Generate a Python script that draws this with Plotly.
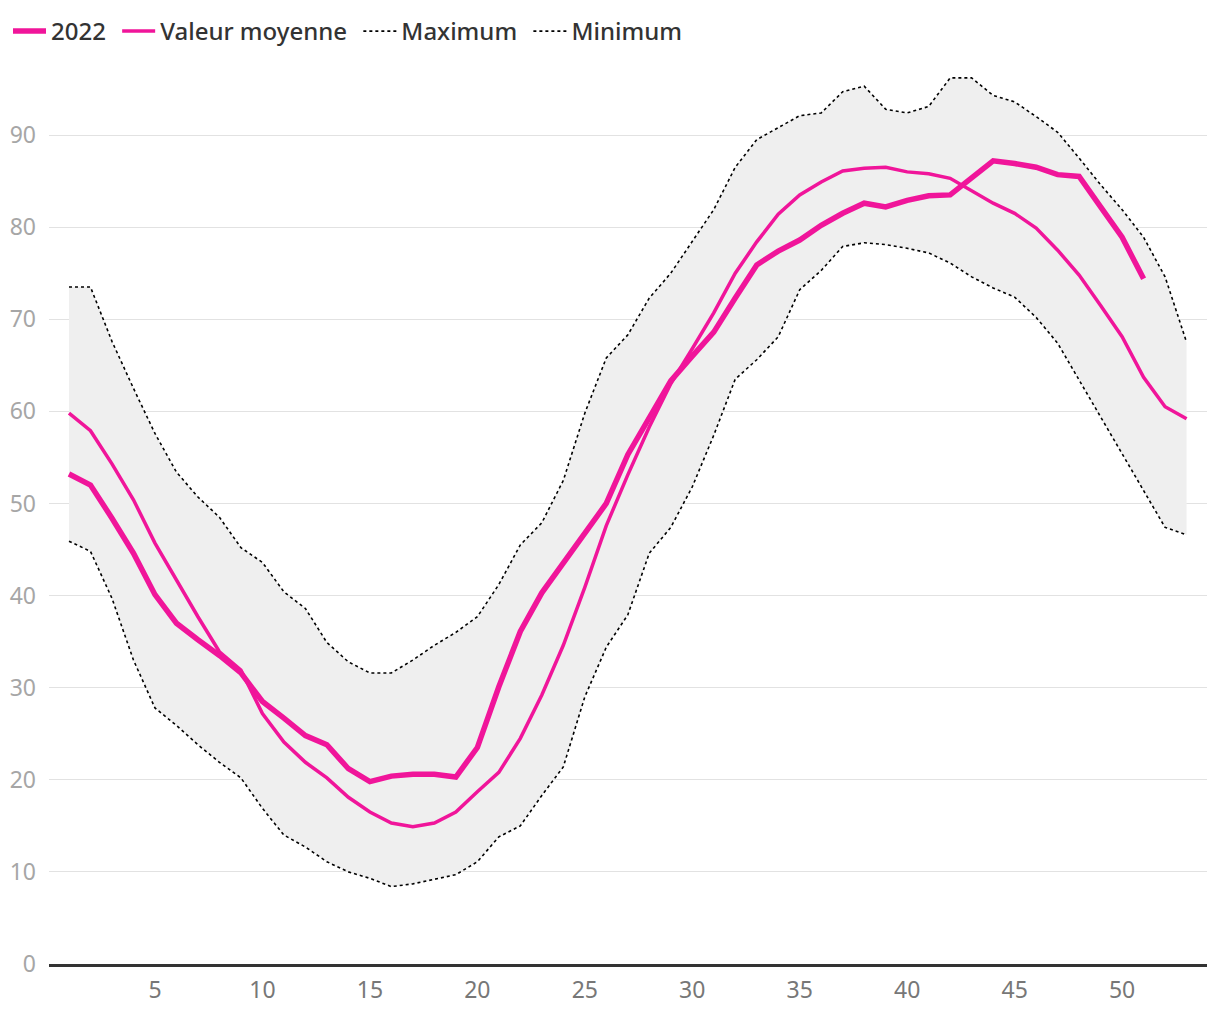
import plotly.graph_objects as go

COLORS = {
    "pink": "#f0159a",
    "band": "#efefef",
    "grid": "#e2e2e2",
    "axis": "#333333",
    "ytick": "#a6a6a6",
    "xtick": "#777777",
    "text": "#333333",
}

weeks = list(range(1, 54))

val_2022 = [
    53.2, 52.0, 48.4, 44.6, 40.1, 37.0, 35.2, 33.5, 31.6, 28.5,
    26.7, 24.8, 23.8, 21.2, 19.8, 20.4, 20.6, 20.6, 20.3, 23.5,
    30.1, 36.1, 40.3, 43.5, 46.8, 50.0, 55.3, 59.3, 63.3, 66.0,
    68.6, 72.3, 75.9, 77.4, 78.6, 80.2, 81.5, 82.6, 82.2, 82.9,
    83.4, 83.5, 85.3, 87.2, 86.9, 86.5, 85.7, 85.5, 82.2, 78.9,
    74.4,
]

val_mean = [
    59.8, 57.9, 54.3, 50.4, 45.7, 41.7, 37.7, 33.9, 31.9, 27.2,
    24.1, 21.9, 20.2, 18.1, 16.5, 15.3, 14.9, 15.3, 16.5, 18.7,
    20.8, 24.5, 29.2, 34.6, 40.9, 47.6, 53.1, 58.3, 63.0, 66.8,
    70.7, 75.0, 78.4, 81.4, 83.5, 84.9, 86.1, 86.4, 86.5, 86.0,
    85.8, 85.3, 83.9, 82.6, 81.5, 79.9, 77.5, 74.8, 71.5, 68.1,
    63.7, 60.5, 59.2,
]

val_max = [
    73.5, 73.5, 67.6, 62.5, 57.6, 53.4, 50.7, 48.5, 45.2, 43.6,
    40.4, 38.6, 34.9, 32.8, 31.6, 31.6, 33.0, 34.6, 36.0, 37.7,
    41.2, 45.5, 47.9, 52.5, 59.8, 65.8, 68.3, 72.3, 75.0, 78.4,
    81.9, 86.5, 89.5, 90.8, 92.1, 92.4, 94.7, 95.3, 92.8, 92.4,
    93.1, 96.2, 96.2, 94.3, 93.6, 92.0, 90.3, 87.5, 84.6, 81.9,
    78.9, 74.6, 67.5,
]

val_min = [
    45.9, 44.8, 39.7, 33.0, 27.8, 25.9, 23.8, 21.9, 20.2, 16.9,
    14.0, 12.7, 11.1, 10.0, 9.3, 8.4, 8.7, 9.2, 9.7, 11.1,
    13.8, 15.0, 18.3, 21.4, 29.0, 34.4, 37.9, 44.6, 47.4, 51.8,
    57.4, 63.5, 65.6, 68.1, 73.2, 75.3, 77.9, 78.3, 78.1, 77.7,
    77.2, 76.1, 74.6, 73.4, 72.4, 70.2, 67.4, 63.4, 59.4, 55.5,
    51.5, 47.4, 46.6,
]

x_ticks = [5, 10, 15, 20, 25, 30, 35, 40, 45, 50]
y_ticks = [0, 10, 20, 30, 40, 50, 60, 70, 80, 90]

fig = go.Figure()

# grey band between min and max (drawn first, kept out of the legend)
fig.add_trace(go.Scatter(
    x=weeks, y=val_max, mode="lines", line={"width": 0},
    showlegend=False, hoverinfo="skip",
))
fig.add_trace(go.Scatter(
    x=weeks, y=val_min, mode="lines", line={"width": 0},
    fill="tonexty", fillcolor=COLORS["band"],
    showlegend=False, hoverinfo="skip",
))

fig.add_trace(go.Scatter(
    x=weeks[:len(val_2022)], y=val_2022, mode="lines", name="2022\u00a0",
    line={"color": COLORS["pink"], "width": 5.5},
))
fig.add_trace(go.Scatter(
    x=weeks, y=val_mean, mode="lines", name="Valeur moyenne\u00a0",
    line={"color": COLORS["pink"], "width": 3.5},
))
fig.add_trace(go.Scatter(
    x=weeks, y=val_max, mode="lines", name="Maximum\u00a0",
    line={"color": "#000000", "width": 1.6, "dash": "dot"},
))
fig.add_trace(go.Scatter(
    x=weeks, y=val_min, mode="lines", name="Minimum",
    line={"color": "#000000", "width": 1.6, "dash": "dot"},
))

fig.update_layout(
    width=1220,
    height=1020,
    template="plotly_white",
    paper_bgcolor="#ffffff",
    plot_bgcolor="#ffffff",
    font={"family": "Noto Sans, Open Sans, sans-serif", "color": COLORS["text"], "size": 23},
    margin={"l": 41, "r": 21, "t": 62, "b": 64},
    legend={
        "orientation": "h",
        "traceorder": "normal",
        "xref": "container",
        "yref": "container",
        "x": -0.0075,
        "y": 0.999,
        "xanchor": "left",
        "yanchor": "top",
        "font": {"size": 24, "color": COLORS["text"], "weight": 500},
        "itemwidth": 33,
        "bgcolor": "rgba(0,0,0,0)",
    },
    xaxis={
        "range": [0.07, 53.95],
        "tickvals": x_ticks,
        "showgrid": False,
        "zeroline": False,
        "showline": True,
        "linecolor": COLORS["axis"],
        "linewidth": 3,
        "ticks": "",
        "tickfont": {"color": COLORS["xtick"], "size": 23},
        "ticklabelstandoff": 3,
        "automargin": False,
    },
    yaxis={
        "range": [0, 97.06],
        "tickvals": y_ticks,
        "showgrid": True,
        "gridcolor": COLORS["grid"],
        "gridwidth": 1.3,
        "zeroline": False,
        "showline": False,
        "ticks": "",
        "tickfont": {"color": COLORS["ytick"], "size": 23},
        "ticklabelstandoff": 12,
        "automargin": False,
    },
)

fig.write_html("out.html")
